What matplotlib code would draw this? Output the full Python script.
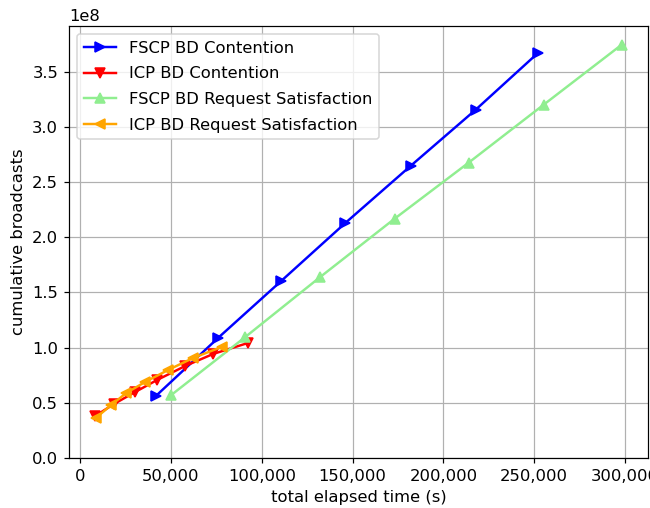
import matplotlib
matplotlib.use("Agg")
import matplotlib.pyplot as plt
from matplotlib.ticker import FuncFormatter

fscp_cont_x = [41900, 76100, 110800, 146100, 181900, 217800, 252300]
fscp_cont_y = [0.565e8, 1.09e8, 1.605e8, 2.13e8, 2.645e8, 3.155e8, 3.672e8]

icp_cont_x = [8300, 18700, 30300, 42400, 57900, 73300, 92600]
icp_cont_y = [0.381e8, 0.49e8, 0.598e8, 0.707e8, 0.834e8, 0.943e8, 1.043e8]

fscp_req_x = [50200, 91000, 132300, 173100, 213900, 255200, 298200]
fscp_req_y = [0.571e8, 1.097e8, 1.641e8, 2.167e8, 2.675e8, 3.2e8, 3.744e8]

icp_req_x = [8800, 17100, 25400, 35800, 48500, 62300, 78000]
icp_req_y = [0.365e8, 0.48e8, 0.589e8, 0.689e8, 0.798e8, 0.907e8, 1.006e8]

plt.rcParams['font.size'] = 10.7

fig = plt.figure(figsize=(650/110, 508/110), dpi=110)
ax = fig.add_axes([0.106, 0.0984, 0.891, 0.8504])

ax.plot(fscp_cont_x, fscp_cont_y, color='blue', marker='>', lw=1.6, label='FSCP BD Contention')
ax.plot(icp_cont_x, icp_cont_y, color='red', marker='v', lw=1.6, label='ICP BD Contention')
ax.plot(fscp_req_x, fscp_req_y, color='lightgreen', marker='^', lw=1.6, label='FSCP BD Request Satisfaction')
ax.plot(icp_req_x, icp_req_y, color='orange', marker='<', lw=1.6, label='ICP BD Request Satisfaction')

ax.set_ylim(bottom=0)
ax.set_xlabel('total elapsed time (s)')
ax.set_ylabel('cumulative broadcasts')
ax.xaxis.set_major_formatter(FuncFormatter(lambda v, p: f'{v:,.0f}'))
ax.grid(True)
ax.legend(loc='upper left', labelspacing=0.65)

fig.savefig('out.png', dpi=110)
